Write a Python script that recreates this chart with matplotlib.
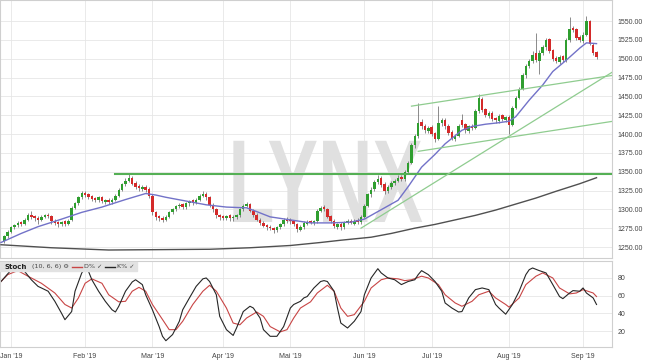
import numpy as np
import pandas as pd
import matplotlib
matplotlib.use('Agg')
import matplotlib.pyplot as plt
from matplotlib.patheffects import AbstractPathEffect
from matplotlib.transforms import Affine2D

# trading days (Xetra calendar), 27 Dec 2018 .. 6 Sep 2019
dates = pd.bdate_range('2018-12-27', '2019-09-06')
dates = dates.drop(pd.to_datetime(['2018-12-31', '2019-01-01', '2019-04-19',
                                   '2019-04-22', '2019-05-01']))
month_labels = ["Jan '19", "Feb '19", "Mar '19", "Apr '19", "Mai '19",
                "Jun '19", "Jul '19", "Aug '19", "Sep '19"]

opens = [1258, 1264, 1270, 1276, 1279, 1283, 1281, 1286, 1293, 1291,
         1289, 1286, 1290, 1293, 1291, 1285, 1283, 1280, 1284, 1281,
         1286, 1302, 1308, 1316, 1322, 1320, 1318, 1315, 1312, 1316,
         1310, 1313, 1310, 1313, 1318, 1326, 1333, 1338, 1342, 1335,
         1331, 1327, 1330, 1327, 1318, 1296, 1291, 1289, 1286, 1290,
         1296, 1300, 1304, 1307, 1303, 1308, 1312, 1309, 1313, 1318,
         1321, 1316, 1306, 1300, 1292, 1291, 1289, 1292, 1288, 1290,
         1292, 1300, 1305, 1307, 1298, 1293, 1286, 1282, 1279, 1277,
         1275, 1272, 1276, 1280, 1287, 1286, 1284, 1280, 1273, 1276,
         1281, 1284, 1282, 1284, 1298, 1303, 1300, 1291, 1285, 1277,
         1281, 1276, 1282, 1285, 1281, 1286, 1283, 1290, 1305, 1320,
         1327, 1336, 1341, 1333, 1324, 1330, 1335, 1338, 1343, 1340,
         1350, 1362, 1385, 1398, 1416, 1411, 1404, 1409, 1401, 1394,
         1414, 1419, 1411, 1403, 1394, 1398, 1418, 1413, 1404, 1411,
         1408, 1430, 1447, 1433, 1424, 1428, 1421, 1417, 1425, 1419,
         1423, 1412, 1435, 1448, 1460, 1478, 1490, 1497, 1507, 1497,
         1508, 1515, 1526, 1511, 1501, 1496, 1503, 1498, 1525, 1541,
         1539, 1529, 1524, 1532, 1550, 1518, 1509]
highs = [1266, 1272, 1278, 1281, 1285, 1285, 1288, 1295, 1298, 1293,
         1291, 1293, 1294, 1295, 1292, 1287, 1285, 1285, 1286, 1287,
         1304, 1310, 1318, 1325, 1324, 1322, 1319, 1317, 1318, 1318,
         1314, 1315, 1315, 1320, 1328, 1335, 1341, 1347, 1344, 1337,
         1333, 1332, 1332, 1329, 1320, 1298, 1293, 1291, 1292, 1298,
         1302, 1306, 1309, 1309, 1310, 1313, 1314, 1315, 1320, 1324,
         1323, 1318, 1308, 1302, 1294, 1293, 1293, 1294, 1292, 1294,
         1302, 1307, 1310, 1309, 1300, 1295, 1288, 1284, 1281, 1279,
         1277, 1278, 1282, 1289, 1290, 1288, 1286, 1282, 1279, 1284,
         1286, 1286, 1286, 1300, 1305, 1306, 1302, 1293, 1287, 1282,
         1283, 1284, 1287, 1287, 1287, 1288, 1292, 1307, 1322, 1329,
         1339, 1345, 1344, 1336, 1332, 1337, 1340, 1346, 1345, 1352,
         1364, 1388, 1400, 1441, 1420, 1413, 1411, 1412, 1403, 1437,
         1421, 1421, 1413, 1405, 1400, 1413, 1426, 1415, 1412, 1413,
         1433, 1453, 1449, 1435, 1430, 1430, 1423, 1426, 1427, 1424,
         1425, 1437, 1450, 1463, 1481, 1493, 1500, 1510, 1534, 1511,
         1518, 1528, 1528, 1513, 1503, 1505, 1505, 1527, 1555, 1544,
         1541, 1531, 1535, 1556, 1552, 1521, 1510]
lows = [1255, 1262, 1268, 1274, 1277, 1278, 1279, 1284, 1287, 1285,
        1280, 1284, 1288, 1288, 1281, 1279, 1277, 1278, 1278, 1279,
        1284, 1300, 1306, 1314, 1316, 1314, 1311, 1310, 1310, 1308,
        1307, 1307, 1307, 1311, 1316, 1324, 1331, 1336, 1332, 1327,
        1325, 1325, 1323, 1315, 1293, 1286, 1284, 1283, 1284, 1288,
        1294, 1298, 1302, 1300, 1301, 1305, 1306, 1307, 1311, 1316,
        1313, 1303, 1297, 1289, 1286, 1286, 1286, 1285, 1285, 1287,
        1290, 1298, 1303, 1296, 1290, 1284, 1279, 1276, 1273, 1272,
        1268, 1270, 1274, 1278, 1282, 1281, 1278, 1270, 1271, 1274,
        1279, 1280, 1279, 1282, 1296, 1298, 1288, 1282, 1275, 1274,
        1273, 1274, 1280, 1280, 1279, 1281, 1281, 1288, 1303, 1317,
        1324, 1333, 1330, 1320, 1322, 1327, 1332, 1336, 1337, 1338,
        1348, 1360, 1382, 1395, 1406, 1402, 1401, 1397, 1390, 1392,
        1411, 1407, 1399, 1392, 1391, 1396, 1409, 1402, 1402, 1405,
        1406, 1428, 1429, 1422, 1421, 1417, 1415, 1415, 1417, 1416,
        1400, 1410, 1433, 1446, 1458, 1475, 1487, 1494, 1495, 1480,
        1505, 1512, 1507, 1497, 1494, 1493, 1495, 1496, 1522, 1535,
        1525, 1522, 1521, 1530, 1518, 1505, 1499]
closes = [1264, 1270, 1276, 1279, 1282, 1281, 1286, 1292, 1290, 1288,
          1286, 1290, 1292, 1291, 1284, 1282, 1280, 1283, 1281, 1285,
          1302, 1308, 1316, 1322, 1319, 1317, 1314, 1313, 1316, 1311,
          1312, 1310, 1313, 1318, 1326, 1333, 1338, 1342, 1334, 1330,
          1328, 1329, 1326, 1318, 1296, 1290, 1288, 1286, 1290, 1296,
          1300, 1304, 1306, 1303, 1308, 1311, 1309, 1313, 1318, 1321,
          1316, 1306, 1300, 1292, 1290, 1289, 1291, 1288, 1290, 1292,
          1300, 1305, 1307, 1298, 1293, 1286, 1282, 1278, 1276, 1275,
          1272, 1276, 1280, 1286, 1285, 1284, 1280, 1274, 1276, 1282,
          1283, 1282, 1284, 1298, 1302, 1300, 1290, 1284, 1278, 1280,
          1276, 1282, 1284, 1282, 1285, 1283, 1290, 1305, 1320, 1326,
          1336, 1340, 1332, 1325, 1330, 1335, 1338, 1342, 1340, 1350,
          1362, 1385, 1398, 1415, 1410, 1405, 1408, 1400, 1394, 1415,
          1418, 1410, 1402, 1395, 1398, 1410, 1412, 1405, 1410, 1408,
          1430, 1448, 1432, 1425, 1428, 1420, 1418, 1424, 1420, 1422,
          1412, 1435, 1448, 1460, 1478, 1490, 1497, 1505, 1498, 1508,
          1515, 1525, 1510, 1500, 1497, 1502, 1498, 1525, 1540, 1538,
          1528, 1525, 1532, 1550, 1520, 1508, 1502]

# moving averages (day index, value)
fast_days = [-1, 5, 10, 17, 23, 29, 36, 42, 45, 48, 54, 60, 66, 72, 75, 79,
             85, 91, 97, 103, 107, 109, 113, 117, 120, 124, 128, 131, 136,
             139, 143, 147, 150, 152, 156, 160, 163, 167, 171, 173, 176]
fast_vals = [1256, 1268, 1277, 1287, 1296, 1303, 1313, 1321, 1319, 1316,
             1311, 1306, 1303, 1302, 1297, 1290, 1286, 1282, 1282, 1283,
             1287, 1292, 1302, 1312, 1330, 1356, 1373, 1387, 1405, 1410,
             1413, 1415, 1417, 1423, 1445, 1465, 1483, 1498, 1514, 1521, 1520]
slow_days = [-1, 14, 31, 61, 73, 85, 94, 100, 109, 115, 122, 128, 134, 140,
             146, 152, 158, 164, 171, 176]
slow_vals = [1253, 1249, 1246, 1247, 1249, 1252, 1256, 1259, 1263, 1268,
             1275, 1280, 1286, 1292, 1299, 1307, 1315, 1324, 1334, 1342]

# drawn trend lines: (day, price) start and end
resistance = [(33, 1347), (181, 1347)]
trend_lines = [[(121, 1437), (181, 1478)],
               [(123, 1377), (181, 1417)],
               [(106, 1275), (181, 1483)]]

# stochastic (10, 6, 6)
k_days = [-1, 2, 4, 6, 8, 10, 11, 13, 15, 17, 18, 20, 21, 23, 24, 25, 26, 28,
          30, 32, 33, 34, 36, 38, 39, 41, 42, 44, 46, 47, 48, 50, 52, 53, 55,
          57, 59, 60, 61, 63, 64, 66, 68, 69, 71, 73, 74, 76, 77, 79, 81, 83,
          85, 86, 88, 89, 90, 92, 94, 95, 96, 98, 99, 100, 102, 104, 106, 107,
          109, 111, 112, 114, 116, 118, 120, 122, 123, 124, 126, 128, 130, 131,
          133, 135, 136, 138, 140, 142, 144, 146, 147, 149, 151, 153, 155, 156,
          157, 159, 161, 163, 165, 166, 168, 169, 171, 172, 173, 175, 176]
k_vals = [76, 89, 90.5, 87.5, 78, 70.5, 68.7, 65, 53.6, 40, 32.8, 42, 65,
          85.7, 91, 87.5, 78, 65, 53.6, 44, 41.5, 48, 65, 75.5, 78, 72.5, 61,
          44, 25, 14, 9, 16, 31, 44, 57.4, 70.5, 79, 80, 76, 61, 36.6, 21.5,
          15, 23.4, 42, 48, 46, 34.7, 21.5, 14, 14, 25, 46, 50, 53.6, 57.4, 59,
          68.7, 76, 77, 76, 65, 46, 29, 23.4, 31, 42, 61, 80, 90.5, 85.7, 80,
          78, 72.5, 76, 78, 83.8, 88.3, 83.8, 76, 65, 51.7, 46, 41.5, 42, 57.4,
          66.8, 68.7, 66.8, 50, 46, 39, 50, 65, 83.8, 89.4, 91.3, 88.3, 85.7,
          72.5, 59, 56.6, 63, 65.7, 65, 68.7, 63, 57.4, 50]
d_days = [-1, 1, 4, 7, 11, 15, 18, 20, 22, 24, 26, 29, 31, 34, 36, 38, 40, 42,
          44, 47, 49, 51, 53, 56, 59, 61, 63, 66, 68, 70, 72, 75, 77, 79, 82,
          84, 86, 88, 91, 93, 96, 98, 100, 102, 104, 107, 109, 112, 114, 117,
          119, 121, 124, 126, 129, 131, 134, 136, 139, 141, 144, 146, 149, 150,
          153, 155, 158, 160, 163, 165, 168, 170, 172, 175, 176]
d_vals = [76, 83.8, 88.3, 82, 74, 63, 50, 46, 57.4, 74, 79, 74, 61, 53, 53.6,
          65, 69.4, 65, 50, 33, 21.5, 21.5, 31, 50, 65, 71.7, 65, 46, 29, 27,
          34.7, 41.5, 36.6, 25, 19, 21.5, 34.7, 46, 53, 63, 71.7, 65, 46, 36.6,
          38.5, 53.6, 68.7, 78, 80, 79, 77, 78, 82, 80, 72.5, 61, 51.7, 48,
          53.6, 61, 65, 57.4, 50, 47, 57.4, 72.5, 82, 85.7, 80, 68.7, 62, 63,
          66.8, 63, 59]


class Squeeze(AbstractPathEffect):
    # narrow the glyphs horizontally around their own centre
    def __init__(self, sx):
        super().__init__()
        self.sx = sx

    def draw_path(self, renderer, gc, tpath, affine, rgbFace=None):
        ext = tpath.get_extents(affine)
        cx = 0.5 * (ext.x0 + ext.x1)
        affine = affine + Affine2D().translate(-cx, 0).scale(self.sx, 1).translate(cx, 0)
        renderer.draw_path(gc, tpath, affine, rgbFace)


o = np.array(opens, float)
h = np.array(highs, float)
l = np.array(lows, float)
c = np.array(closes, float)
x = np.arange(len(c))
month_pos = [int(np.argmax((dates.month == m) & (dates.year == 2019))) for m in range(1, 10)]

W, H = 645, 363
fig = plt.figure(figsize=(W / 100, H / 100), dpi=100)
ax = fig.add_axes([0, 1 - 258 / H, 612 / W, 258 / H])
ax2 = fig.add_axes([0, 1 - 347 / H, 612 / W, 86 / H])

xlim = (-1.3, 180.6)
for a in (ax, ax2):
    a.set_xlim(*xlim)
    a.set_axisbelow(True)
    a.grid(True, color='#e6e6e6', lw=0.6)
    a.yaxis.tick_right()
    a.set_xticks(month_pos)
    a.tick_params(length=0, labelsize=5, labelcolor='#444444', pad=4)
    for s in a.spines.values():
        s.set_color('#cfcfcf')
        s.set_linewidth(0.8)

# price panel
ax.set_ylim(1235.4, 1577.9)
ticks = np.arange(1250, 1551, 25)
ax.set_yticks(ticks)
ax.set_yticklabels([f'{t:.2f}' for t in ticks], family='Liberation Sans')
ax.set_xticklabels([])

ax.text(0.530, 0.1395, 'LYNX', transform=ax.transAxes, ha='center', va='baseline',
        fontsize=85, fontweight='bold', family='Liberation Sans', color='#e0e0e0',
        zorder=0.6, path_effects=[Squeeze(0.64)])

green, red = '#2f9e2f', '#d42a2a'
cols = np.where(c >= o, green, red)
ax.vlines(x, l, h, colors='#5e5e5e', lw=0.5, zorder=2.5)
ax.bar(x, np.maximum(np.abs(c - o), 0.8), bottom=np.minimum(o, c), width=0.74,
       color=cols, zorder=3)

ax.plot(fast_days, fast_vals, color='#7272c8', lw=1.0, zorder=4)
ax.plot(slow_days, slow_vals, color='#505050', lw=1.0, zorder=4)

(x0, y0), (x1, y1) = resistance
ax.plot([x0, x1], [y0, y1], color='#55b055', lw=1.5, zorder=4)
for (xa, ya), (xb, yb) in trend_lines:
    ax.plot([xa, xb], [ya, yb], color='#8fcc8f', lw=0.9, zorder=4)

# stochastic panel
ax2.set_ylim(1.9, 99.2)
ax2.set_yticks([20, 40, 60, 80])
ax2.set_yticklabels(['20', '40', '60', '80'], family='Liberation Sans')
ax2.set_xticklabels(month_labels, family='Liberation Sans')
ax2.plot(d_days, d_vals, color='#c84545', lw=0.8)
ax2.plot(k_days, k_vals, color='#262626', lw=0.8)

ax2.add_patch(plt.Rectangle((0, 0.884), 137 / 612, 0.104, transform=ax2.transAxes,
                            color='#e2e2e2', zorder=5, clip_on=False))
ty = 0.936
ax2.text(0.008, ty, 'Stoch', transform=ax2.transAxes, va='center', fontsize=5,
         fontweight='bold', color='#222222', zorder=6)
ax2.text(0.052, ty, '(10, 6, 6) \u2699', transform=ax2.transAxes, va='center',
         fontsize=4.6, color='#444444', zorder=6)
ax2.plot([0.118, 0.134], [ty, ty], transform=ax2.transAxes, color='#c84545', lw=1,
         zorder=6, clip_on=False)
ax2.text(0.137, ty, 'D% \u2713', transform=ax2.transAxes, va='center', fontsize=4.6,
         color='#444444', zorder=6)
ax2.plot([0.172, 0.188], [ty, ty], transform=ax2.transAxes, color='#262626', lw=1,
         zorder=6, clip_on=False)
ax2.text(0.191, ty, 'K% \u2713', transform=ax2.transAxes, va='center', fontsize=4.6,
         color='#444444', zorder=6)

fig.savefig('out.png', dpi=100, facecolor='white')
